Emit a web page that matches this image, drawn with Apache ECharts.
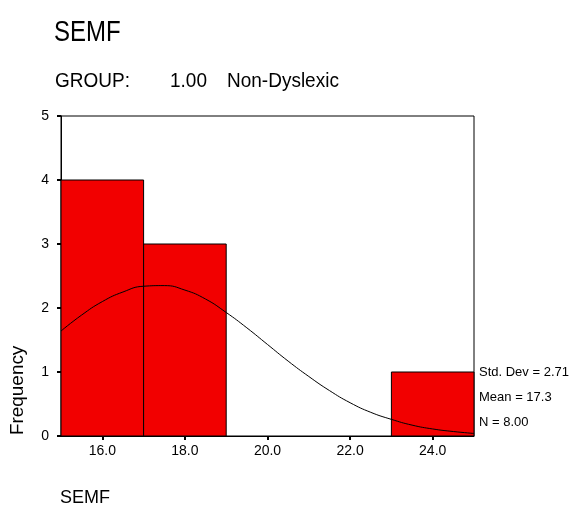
<!DOCTYPE html>
<html>
<head>
<meta charset="utf-8">
<script src="https://cdn.jsdelivr.net/npm/echarts@6/dist/echarts.min.js"></script>
<style>
  html, body { margin: 0; padding: 0; background: #fff; }
  #chart { width: 581px; height: 510px; }
</style>
</head>
<body>
<div id="chart"></div>
<script>
// Histogram of SEMF scores, group 1.00 (Non-Dyslexic)
const binStarts = [15, 17, 19, 21, 23];
const binCounts = [4, 3, 0, 0, 1];
const binWidth = 2;
const xTicks = [16, 18, 20, 22, 24];

// Fitted normal curve, read at half-unit steps
const curveX = [15, 15.5, 16, 16.5, 17, 17.5, 18, 18.5, 19, 19.5, 20, 20.5, 21, 21.5, 22, 22.5, 23, 23.5, 24, 24.5, 25];
const curveY = [1.64, 1.89, 2.10, 2.25, 2.34, 2.35, 2.28, 2.14, 1.93, 1.69, 1.43, 1.17, 0.93, 0.71, 0.52, 0.37, 0.26, 0.17, 0.11, 0.07, 0.04];

const statsLines = ['Std. Dev = 2.71', 'Mean = 17.3', 'N = 8.00'];

const FONT = 'Arial, "Liberation Sans", sans-serif';
const BAR_RED = '#F20000';

const chart = echarts.init(document.getElementById('chart'), null, { renderer: 'canvas' });

const barData = binStarts.map((s, i) => [s, binCounts[i]]);
const curveData = curveX.map((x, i) => [x, curveY[i]]);

function txt(x, y, text, size, extra) {
  return Object.assign({
    type: 'text', x: x, y: y,
    style: { text: text, fill: '#000', font: size + 'px ' + FONT, textVerticalAlign: 'middle', verticalAlign: 'middle' }
  }, extra || {});
}

const option = {
  backgroundColor: '#fff',
  animation: false,
  grid: {
    left: 61, right: 107, top: 116, bottom: 74,
    show: true, borderColor: '#000', borderWidth: 1, backgroundColor: 'transparent'
  },
  xAxis: {
    type: 'value', min: 15, max: 25,
    axisLine: { show: true, lineStyle: { color: '#000', width: 1 } },
    axisTick: { show: true, length: 4, lineStyle: { color: '#000', width: 2 }, customValues: xTicks },
    axisLabel: { customValues: xTicks, color: '#000', fontSize: 14, fontFamily: FONT, margin: 8,
      formatter: v => v.toFixed(1) },
    splitLine: { show: false }
  },
  yAxis: {
    type: 'value', min: 0, max: 5, interval: 1,
    axisLine: { show: true, lineStyle: { color: '#000', width: 1 } },
    axisTick: { show: true, length: 4, lineStyle: { color: '#000', width: 2 } },
    axisLabel: { color: '#000', fontSize: 14, fontFamily: FONT, margin: 12 },
    splitLine: { show: false }
  },
  series: [
    {
      type: 'custom',
      data: barData,
      encode: { x: 0, y: 1 },
      renderItem: function (params, api) {
        const s = api.value(0), c = api.value(1);
        if (!c) return null;
        const p0 = api.coord([s, c]);
        const p1 = api.coord([s + binWidth, 0]);
        return {
          type: 'rect',
          shape: { x: p0[0], y: p0[1], width: p1[0] - p0[0], height: p1[1] - p0[1] },
          style: { fill: BAR_RED, stroke: '#000', lineWidth: 1 }
        };
      },
      z: 2
    },
    {
      type: 'line',
      data: curveData,
      smooth: true,
      showSymbol: false,
      lineStyle: { color: '#000', width: 1 },
      z: 3
    }
  ],
  graphic: [
    txt(54, 33, 'SEMF', 24, { scaleY: 1.2 }),
    txt(55, 81, 'GROUP:', 19, { scaleY: 1.08 }),
    txt(170, 81, '1.00', 19, { scaleY: 1.08 }),
    txt(227, 81, 'Non-Dyslexic', 19, { scaleY: 1.08 }),
    txt(18, 435, 'Frequency', 18, { rotation: Math.PI / 2, scaleX: 1.05 }),
    txt(60, 498, 'SEMF', 18),
    txt(479, 372, statsLines[0], 13),
    txt(479, 397, statsLines[1], 13),
    txt(479, 422, statsLines[2], 13)
  ]
};

chart.setOption(option);
</script>
</body>
</html>
